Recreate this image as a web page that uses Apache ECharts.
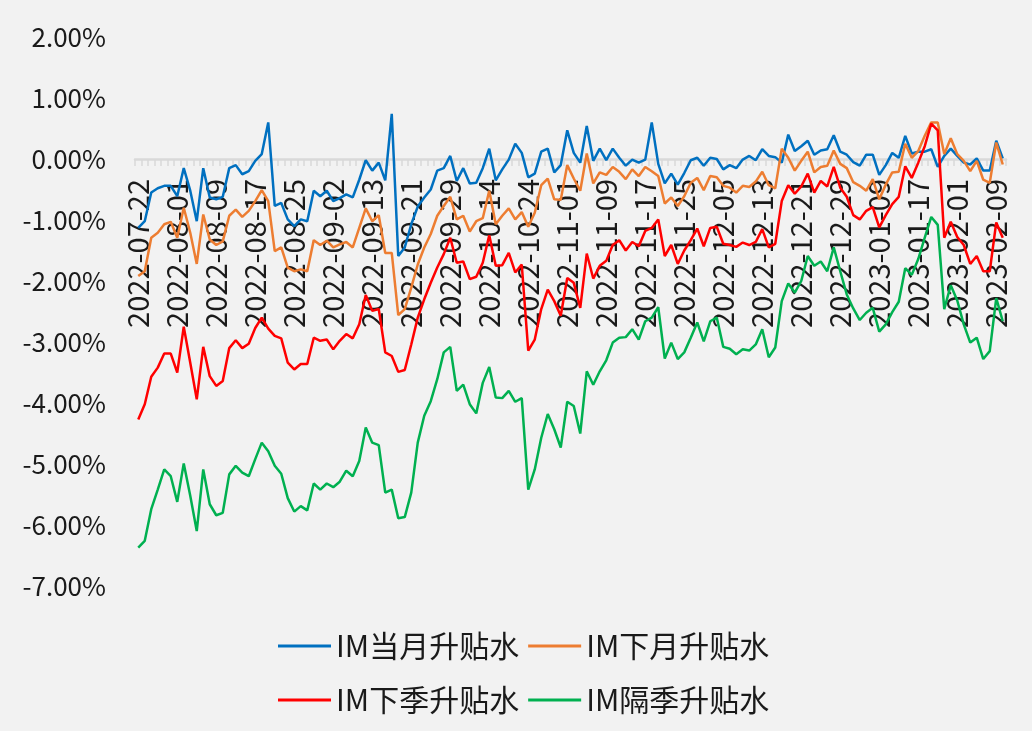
<!DOCTYPE html>
<html>
<head>
<meta charset="utf-8">
<script src="https://cdn.jsdelivr.net/npm/echarts/dist/echarts.min.js"></script>
<style>
  html, body { margin: 0; padding: 0; background: #f2f2f2; }
  #chart { width: 1032px; height: 731px; }
</style>
</head>
<body>
<div id="chart"></div>
<script>
/* ===== 交易日 ===== */
const dates = [
  '2022-07-22','2022-07-25','2022-07-26','2022-07-27','2022-07-28','2022-07-29',
  '2022-08-01','2022-08-02','2022-08-03','2022-08-04','2022-08-05','2022-08-08','2022-08-09','2022-08-10',
  '2022-08-11','2022-08-12','2022-08-15','2022-08-16','2022-08-17','2022-08-18','2022-08-19','2022-08-22',
  '2022-08-23','2022-08-24','2022-08-25','2022-08-26','2022-08-29','2022-08-30','2022-08-31',
  '2022-09-01','2022-09-02','2022-09-05','2022-09-06','2022-09-07','2022-09-08','2022-09-09','2022-09-13',
  '2022-09-14','2022-09-15','2022-09-16','2022-09-19','2022-09-20','2022-09-21','2022-09-22','2022-09-23',
  '2022-09-26','2022-09-27','2022-09-28','2022-09-29','2022-09-30',
  '2022-10-10','2022-10-11','2022-10-12','2022-10-13','2022-10-14','2022-10-17','2022-10-18','2022-10-19',
  '2022-10-20','2022-10-21','2022-10-24','2022-10-25','2022-10-26','2022-10-27','2022-10-28','2022-10-31',
  '2022-11-01','2022-11-02','2022-11-03','2022-11-04','2022-11-07','2022-11-08','2022-11-09','2022-11-10',
  '2022-11-11','2022-11-14','2022-11-15','2022-11-16','2022-11-17','2022-11-18','2022-11-21','2022-11-22',
  '2022-11-23','2022-11-24','2022-11-25','2022-11-28','2022-11-29','2022-11-30',
  '2022-12-01','2022-12-02','2022-12-05','2022-12-06','2022-12-07','2022-12-08','2022-12-09','2022-12-12',
  '2022-12-13','2022-12-14','2022-12-15','2022-12-16','2022-12-19','2022-12-20','2022-12-21','2022-12-22',
  '2022-12-23','2022-12-26','2022-12-27','2022-12-28','2022-12-29','2022-12-30',
  '2023-01-03','2023-01-04','2023-01-05','2023-01-06','2023-01-09','2023-01-10','2023-01-11','2023-01-12',
  '2023-01-13','2023-01-16','2023-01-17','2023-01-18','2023-01-19','2023-01-20','2023-01-30','2023-01-31',
  '2023-02-01','2023-02-02','2023-02-03','2023-02-06','2023-02-07','2023-02-08','2023-02-09','2023-02-10'
];

/* ===== 升贴水（%） ===== */
const curMonth = [
  -1.13,-1.02,-0.55,-0.48,-0.44,-0.44,-0.61,-0.15,-0.52,-1.02,-0.15,-0.63,-0.66,-0.62,-0.15,-0.10,-0.25,-0.20,-0.03,0.08,0.60,-0.77,
  -0.72,-0.99,-1.10,-0.99,-1.02,-0.52,-0.61,-0.52,-0.69,-0.64,-0.58,-0.63,-0.34,-0.02,-0.19,-0.06,-0.35,0.74,-1.59,-1.45,-1.07,-0.78,
  -0.63,-0.50,-0.19,-0.15,0.05,-0.36,-0.15,-0.40,-0.39,-0.15,0.17,-0.35,-0.17,-0.01,0.25,0.10,-0.30,-0.24,0.12,0.17,-0.22,-0.10,
  0.47,0.10,-0.06,0.54,-0.03,0.17,-0.02,0.17,0.02,-0.11,-0.01,-0.06,-0.01,0.60,-0.08,-0.40,-0.24,-0.42,-0.23,-0.02,0.02,-0.11,0.02,
  0.00,-0.17,-0.10,-0.15,-0.01,0.05,-0.02,0.16,0.05,0.03,-0.06,0.40,0.13,0.21,0.30,0.07,0.14,0.16,0.39,0.12,0.07,-0.05,
  -0.11,0.07,0.07,-0.26,-0.10,0.10,0.02,0.38,0.09,0.12,0.12,0.16,-0.13,0.05,0.17,0.05,-0.06,-0.09,0.01,-0.19,-0.19,0.30,0.01
];
const nextMonth = [
  -1.92,-1.84,-1.29,-1.21,-1.07,-1.03,-1.29,-0.80,-1.21,-1.72,-0.91,-1.32,-1.41,-1.35,-0.93,-0.83,-0.95,-0.85,-0.69,-0.51,-0.69,-1.51,
  -1.45,-1.78,-1.84,-1.81,-1.84,-1.33,-1.41,-1.34,-1.45,-1.40,-1.36,-1.45,-1.13,-0.81,-1.02,-0.92,-1.54,-1.54,-2.56,-2.46,-2.11,-1.73,
  -1.45,-1.23,-0.93,-0.77,-0.62,-0.99,-0.93,-1.19,-1.02,-0.97,-0.52,-1.07,-0.93,-0.81,-0.99,-0.87,-1.11,-0.88,-0.43,-0.32,-0.66,-0.67,
  -0.10,-0.32,-0.52,0.09,-0.40,-0.22,-0.26,-0.13,-0.21,-0.33,-0.17,-0.28,-0.13,-0.20,-0.28,-0.73,-0.63,-0.77,-0.61,-0.39,-0.31,-0.51,-0.28,
  -0.30,-0.44,-0.47,-0.55,-0.44,-0.46,-0.37,-0.21,-0.43,-0.48,0.17,0.02,-0.19,-0.03,0.12,-0.22,-0.13,-0.11,0.14,-0.08,-0.15,-0.38,
  -0.44,-0.52,-0.33,-0.66,-0.42,-0.22,-0.21,0.25,0.02,0.13,0.38,0.60,0.60,0.08,0.34,0.08,-0.03,-0.20,-0.03,-0.34,-0.39,0.27,-0.09
];
const nextQuarter = [
  -4.27,-4.02,-3.57,-3.42,-3.19,-3.19,-3.50,-2.75,-3.34,-3.94,-3.08,-3.56,-3.72,-3.64,-3.10,-2.97,-3.10,-3.03,-2.77,-2.60,-2.78,-2.90,
  -2.94,-3.34,-3.45,-3.36,-3.36,-2.93,-2.98,-2.96,-3.12,-2.98,-2.87,-2.94,-2.71,-2.23,-2.49,-2.46,-3.17,-3.23,-3.49,-3.46,-3.04,-2.60,
  -2.30,-2.03,-1.78,-1.56,-1.29,-1.70,-1.68,-1.97,-1.93,-1.70,-1.25,-1.75,-1.74,-1.54,-1.86,-1.73,-3.14,-2.96,-2.46,-2.14,-2.33,-2.57,
  -1.95,-2.03,-2.44,-1.55,-1.96,-1.75,-1.67,-1.41,-1.33,-1.50,-1.36,-1.43,-1.18,-1.13,-0.99,-1.59,-1.41,-1.72,-1.50,-1.33,-1.14,-1.43,-1.13,
  -1.11,-1.39,-1.41,-1.44,-1.37,-1.41,-1.36,-1.15,-1.45,-1.39,-0.69,-0.43,-0.57,-0.45,-0.24,-0.55,-0.36,-0.45,-0.13,-0.47,-0.62,-0.92,
  -0.99,-0.85,-0.79,-1.12,-0.92,-0.74,-0.62,-0.12,-0.31,-0.06,0.21,0.58,0.47,-1.29,-1.03,-1.28,-1.41,-1.72,-1.59,-1.84,-1.84,-1.04,-1.29
];
const farQuarter = [
  -6.37,-6.26,-5.74,-5.42,-5.09,-5.20,-5.62,-4.99,-5.52,-6.10,-5.09,-5.66,-5.84,-5.80,-5.17,-5.03,-5.14,-5.20,-4.92,-4.65,-4.79,-5.03,
  -5.16,-5.56,-5.78,-5.69,-5.76,-5.32,-5.42,-5.32,-5.38,-5.29,-5.11,-5.20,-4.95,-4.40,-4.65,-4.69,-5.47,-5.42,-5.89,-5.87,-5.47,-4.65,
  -4.21,-3.97,-3.61,-3.17,-3.08,-3.80,-3.70,-4.02,-4.17,-3.67,-3.41,-3.91,-3.92,-3.80,-3.98,-3.92,-5.42,-5.09,-4.57,-4.18,-4.43,-4.73,
  -3.98,-4.05,-4.50,-3.48,-3.70,-3.48,-3.30,-3.01,-2.93,-2.92,-2.79,-2.96,-2.66,-2.60,-2.43,-3.27,-3.01,-3.28,-3.17,-2.93,-2.68,-2.99,-2.66,
  -2.60,-3.08,-3.11,-3.20,-3.12,-3.14,-3.04,-2.79,-3.25,-3.09,-2.33,-2.04,-2.19,-2.00,-1.59,-1.75,-1.68,-1.84,-1.45,-1.84,-2.22,-2.45,
  -2.64,-2.52,-2.44,-2.83,-2.71,-2.51,-2.34,-1.79,-1.90,-1.64,-1.29,-0.95,-1.08,-2.46,-2.07,-2.32,-2.71,-3.01,-2.93,-3.28,-3.15,-2.28,-2.66
];

const names = ['IM当月升贴水', 'IM下月升贴水', 'IM下季升贴水', 'IM隔季升贴水'];
const colors = ['#0070C0', '#ED7D31', '#FF0000', '#00B050'];
const yTicks = { min: -7, max: 2, step: 1 };

/* ===== 图表 ===== */
const FONT = '"Noto Sans CJK SC", "Noto Sans", sans-serif';
const GRID = { left: 135, right: 26, top: 37, bottom: 145 };
const chart = echarts.init(document.getElementById('chart'));

// x 轴横在 0 线上：用 offset 把整条轴（含标签）从网格底部抬上去
const plotH = 731 - GRID.top - GRID.bottom;
const zeroOffset = -plotH * (0 - yTicks.min) / (yTicks.max - yTicks.min);

const mkLine = (name, data, color) => ({
  name, type: 'line', data,
  symbol: 'none',
  lineStyle: { width: 2.5, color },
  itemStyle: { color },
  animation: false
});

const legendBase = {
  left: 273,
  icon: 'rect',
  itemWidth: 53,
  itemHeight: 3,
  itemGap: 9,
  textStyle: { fontSize: 30, color: '#1a1a1a', fontFamily: FONT }
};

chart.setOption({
  backgroundColor: '#f2f2f2',
  textStyle: { fontFamily: FONT },
  grid: GRID,
  legend: [
    { ...legendBase, top: 626, data: names.slice(0, 2) },
    { ...legendBase, top: 680, data: names.slice(2, 4) }
  ],
  xAxis: {
    type: 'category',
    data: dates,
    boundaryGap: true,
    offset: zeroOffset,
    axisLine: { onZero: false, lineStyle: { color: '#d9d9d9', width: 2.5 } },
    axisTick: { show: true, interval: 0, length: 7, lineStyle: { color: '#d9d9d9', width: 1.5 } },
    axisLabel: { rotate: 90, interval: 5, fontSize: 29, margin: 20, color: '#1a1a1a', fontFamily: FONT },
    splitLine: { show: false }
  },
  yAxis: {
    type: 'value',
    min: yTicks.min,
    max: yTicks.max,
    interval: yTicks.step,
    axisLine: { show: false },
    axisTick: { show: false },
    splitLine: { show: false },
    axisLabel: {
      fontSize: 26, margin: 29, color: '#1a1a1a', fontFamily: FONT,
      formatter: v => v.toFixed(2) + '%'
    }
  },
  series: [
    mkLine(names[0], curMonth, colors[0]),
    mkLine(names[1], nextMonth, colors[1]),
    mkLine(names[2], nextQuarter, colors[2]),
    mkLine(names[3], farQuarter, colors[3])
  ]
});
</script>
</body>
</html>
